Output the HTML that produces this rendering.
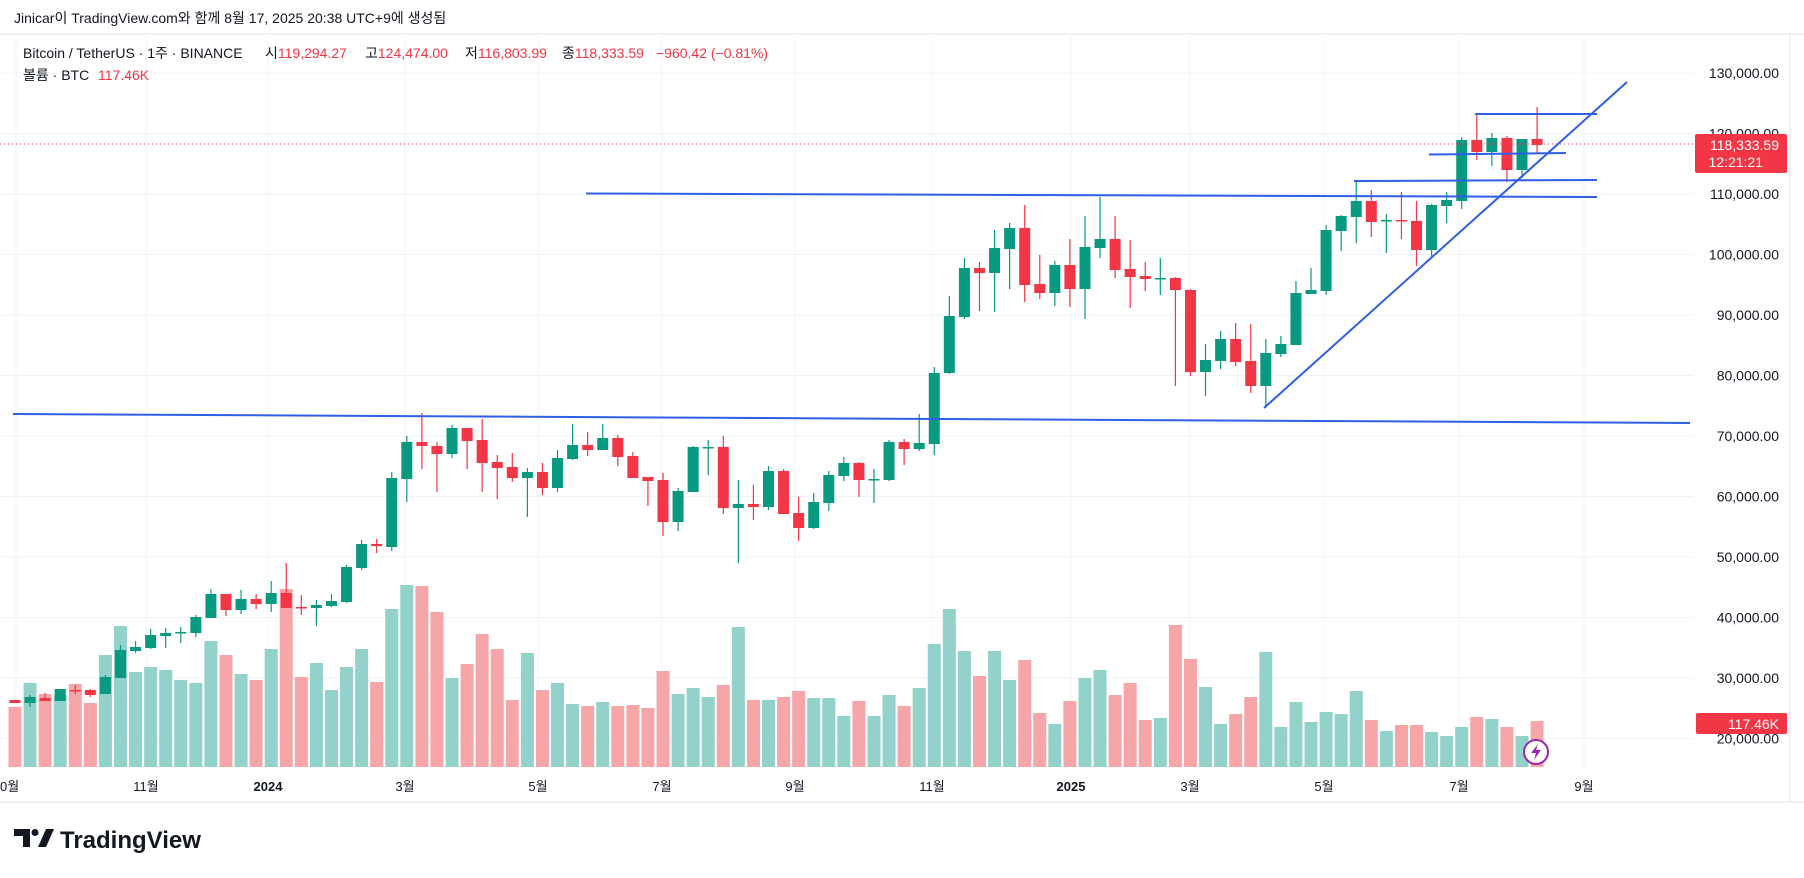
<!DOCTYPE html>
<html><head><meta charset="utf-8"><style>
html,body{margin:0;padding:0;background:#fff;}
svg{display:block;font-family:"Liberation Sans","Noto Sans CJK KR",sans-serif;}
</style></head><body>
<svg id="s" width="1804" height="878" viewBox="0 0 1804 878" xmlns="http://www.w3.org/2000/svg">
<rect width="1804" height="878" fill="#fff"/>
<text x="14" y="23" font-size="14" fill="#131722">Jinicar이 TradingView.com와 함께 8월 17, 2025 20:38 UTC+9에 생성됨</text>
<line x1="0" y1="34" x2="1804" y2="34" stroke="#e0e3eb"/>
<line x1="1790" y1="34" x2="1790" y2="802" stroke="#e0e3eb"/>
<line x1="0" y1="802" x2="1804" y2="802" stroke="#e0e3eb"/>
<g id="grid"></g>
<g id="vol"></g>
<g id="cand"></g>
<line x1="0" y1="144" x2="1695" y2="144" stroke="#f23645" stroke-dasharray="1,3" stroke-width="1"/>
<g stroke="#2f5fe6" stroke-width="2" fill="none">
<line x1="13" y1="414" x2="1690" y2="423"/>
<line x1="586" y1="193.5" x2="1597" y2="197"/>
<line x1="1354" y1="181" x2="1597" y2="180"/>
<line x1="1429" y1="154.5" x2="1566" y2="153"/>
<line x1="1475" y1="114" x2="1597" y2="114"/>
<line x1="1264" y1="408" x2="1627" y2="82"/>
</g>
<g font-size="14" fill="#131722">
<text x="23" y="58">Bitcoin / TetherUS · 1주 · BINANCE</text>
<text x="265" y="58">시<tspan fill="#f23645">119,294.27</tspan></text>
<text x="365" y="58">고<tspan fill="#f23645">124,474.00</tspan></text>
<text x="465" y="58">저<tspan fill="#f23645">116,803.99</tspan></text>
<text x="562" y="58">종<tspan fill="#f23645">118,333.59</tspan></text>
<text x="656" y="58" fill="#f23645">−960.42 (−0.81%)</text>
<text x="23" y="80">볼륨 · BTC</text>
<text x="98" y="80" fill="#f23645">117.46K</text>
</g>
<g id="axis" font-size="14" fill="#131722" text-anchor="end"></g>
<rect x="1695" y="134" width="92" height="39" rx="2" fill="#f23645"/>
<text x="1779" y="150" font-size="14" fill="#fff" text-anchor="end">118,333.59</text>
<text x="1763" y="167" font-size="14" fill="#fff" text-anchor="end">12:21:21</text>
<rect x="1696" y="713" width="91" height="21" rx="2" fill="#f23645"/>
<text x="1779" y="729" font-size="14" fill="#fff" text-anchor="end">117.46K</text>
<g id="time" font-size="13" fill="#131722" text-anchor="middle"></g>
<circle cx="1536" cy="752" r="12" fill="#fff" stroke="#9c27b0" stroke-width="2"/>
<path d="M1538 744 L1531 753 L1536 753 L1534 760 L1541 750 L1536 750 Z" fill="#9c27b0"/>
<g fill="#131722">
<path d="M14 829 h16 v18 h-7 v-11 h-9 z"/>
<circle cx="35" cy="832.5" r="3.5"/>
<path d="M38 847 l8 -18 h8 l-8 18 z"/>
<text x="60" y="848" font-size="24" font-weight="bold">TradingView</text>
</g>
</svg>
<script>
var NS="http://www.w3.org/2000/svg";
function el(p,t,a,txt){var e=document.createElementNS(NS,t);for(var k in a)e.setAttribute(k,a[k]);if(txt!=null)e.textContent=txt;p.appendChild(e);return e;}
var grid=document.getElementById('grid'),axis=document.getElementById('axis');
for(var p=20;p<=130;p+=10){var y=73+(130-p)*6.05;el(grid,'line',{x1:0,y1:y,x2:1693,y2:y,stroke:'#f0f3fa'});
 el(axis,'text',{x:1779,y:y+5},(p)+',000.00');}
var mx=[16,146,268,405,538,662,795,932,1071,1190,1324,1459,1584];
var ml=['10월','11월','2024','3월','5월','7월','9월','11월','2025','3월','5월','7월','9월'];
var tg=document.getElementById('time');
mx.forEach(function(x,i){el(grid,'line',{x1:x,y1:34,x2:x,y2:770,stroke:'#f0f3fa'});
 var t=el(tg,'text',{x:(i==0?6:x),y:791},ml[i]);if(ml[i].length==4&&ml[i][0]=='2')t.setAttribute('font-weight','bold');});
var C=[[700,703,700,703,'r'],[697,703,695,707,'g'],[698,701,693,701,'r'],[689,701,689,701,'g'],[690,691,685,694,'r'],[690,695,689,697,'r'],
[677,694,675,694,'g'],[650,678,645,678,'g'],[647,651,641,653,'g'],[635,648,629,649,'g'],[633,636,628,648,'g'],[632,633,627,643,'g'],
[617,633,615,637,'g'],[594,618,589,618,'g'],[594,610,594,616,'r'],[599,610,590,614,'g'],[599,604,594,609,'r'],[593,604,581,612,'g'],
[593,608,563,608,'r'],[607,608,595,615,'r'],[605,608,600,626,'g'],[601,606,594,607,'g'],[567,602,565,603,'g'],[544,568,540,570,'g'],
[544,546,539,553,'r'],[478,547,472,551,'g'],[442,479,436,502,'g'],[442,446,413,469,'r'],[446,454,442,492,'r'],[428,454,425,458,'g'],
[428,441,428,469,'r'],[440,463,419,492,'r'],[462,468,455,499,'r'],[467,478,453,482,'r'],[472,478,468,517,'g'],[472,488,463,495,'r'],
[458,488,450,492,'g'],[445,459,424,460,'g'],[445,450,432,456,'r'],[438,450,424,450,'g'],[438,457,435,466,'r'],[456,478,452,478,'r'],
[477,481,477,506,'r'],[480,522,473,536,'r'],[491,522,488,531,'g'],[447,492,446,492,'g'],[447,448,440,475,'g'],[447,508,436,514,'r'],
[504,508,480,563,'g'],[504,507,485,520,'r'],[471,507,466,510,'g'],[471,514,469,514,'r'],[513,528,497,541,'r'],[502,528,493,529,'g'],
[475,503,471,511,'g'],[463,476,457,481,'g'],[463,480,462,497,'r'],[479,480,469,503,'g'],[442,480,440,481,'g'],[442,449,439,465,'r'],
[443,449,414,451,'g'],[373,444,367,455,'g'],[316,373,296,374,'g'],[268,317,258,319,'g'],[268,273,262,311,'r'],[248,273,230,312,'g'],
[228,249,223,289,'g'],[228,285,205,302,'r'],[284,293,255,299,'r'],[265,293,261,306,'g'],[265,289,239,307,'r'],[247,289,216,319,'g'],
[239,248,197,258,'g'],[239,270,216,278,'r'],[269,277,240,308,'r'],[276,279,262,291,'r'],[278,279,258,295,'g'],[278,290,277,386,'r'],
[290,372,289,376,'r'],[360,372,344,396,'g'],[339,361,331,369,'g'],[339,362,323,366,'r'],[361,386,324,393,'r'],[353,386,339,408,'g'],
[344,354,336,357,'g'],[293,345,281,345,'g'],[290,294,268,294,'g'],[230,291,225,295,'g'],[216,231,215,251,'g'],[201,217,182,243,'g'],
[201,222,190,237,'r'],[220,221,214,253,'g'],[220,221,192,239,'r'],[221,250,201,266,'r'],[205,250,204,257,'g'],[200,206,192,223,'g'],
[140,201,137,209,'g'],[140,152,114,160,'r'],[138,152,133,166,'g'],[138,170,136,182,'r'],[139,170,139,178,'g'],[139,145,107,153,'r']];
var V=[707,683,694,695,684,703,655,626,672,667,670,680,683,641,655,674,680,649,589,677,663,690,667,649,682,609,585,586,612,678,
664,634,649,700,653,690,683,704,706,702,706,705,708,671,694,688,697,685,627,700,700,697,691,698,698,716,701,716,695,706,
688,644,609,651,676,651,680,660,713,724,701,678,670,695,683,720,718,625,659,687,724,714,697,652,727,702,722,712,714,691,
720,731,725,725,732,736,727,717,719,727,736,721];
var vg=document.getElementById('vol'),cg=document.getElementById('cand');
C.forEach(function(c,i){var x=15+15.07*i;var g=c[4]=='g';
 var vt=V[i];el(vg,'rect',{x:x-6.5,y:vt,width:13,height:767-vt,fill:g?'#92d2ca':'#f6a5a8'});
 var col=g?'#089981':'#f23645';
 el(cg,'line',{x1:x,y1:c[2],x2:x,y2:c[3],stroke:col,'stroke-width':1.2});
 var h=Math.max(c[1]-c[0],1.5);
 el(cg,'rect',{x:x-5.5,y:c[0],width:11,height:h,fill:col});
});
</script>
</body></html>
